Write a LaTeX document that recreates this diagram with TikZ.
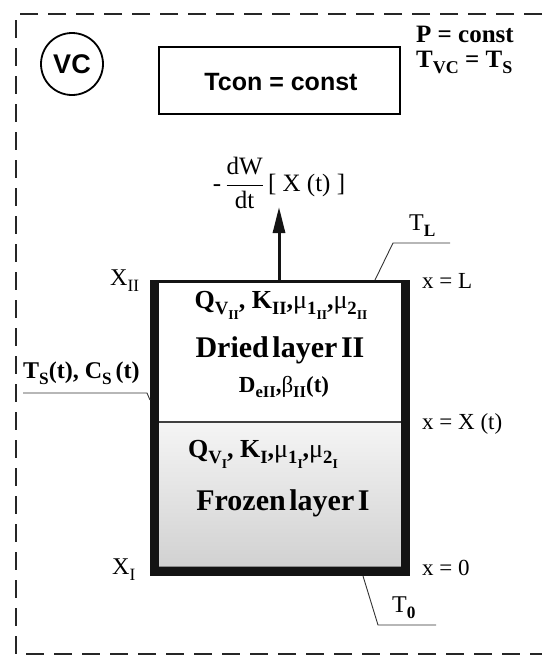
\documentclass[tikz,border=0pt]{standalone}
\usepackage{fontspec}
\setmainfont{Liberation Serif}
\setsansfont{Liberation Sans}
\usepackage{amsmath}
\usepackage{graphicx}
\usetikzlibrary{arrows.meta}
\newcommand{\sbs}[1]{\raisebox{-0.25em}{\scalebox{0.72}{#1}}}
\newcommand{\fsz}[1]{\fontsize{#1}{#1}\selectfont}
\begin{document}
\begin{tikzpicture}[x=1pt,y=-1pt,
  lbl/.style={inner sep=0pt, font=\fsz{23}},
  blbl/.style={inner sep=0pt, font=\fsz{25}\bfseries},
  layer/.style={inner sep=0pt, font=\fsz{30}\bfseries},
  leader/.style={draw=black!80, line width=0.9pt},
  wall/.style={fill=black!92},
  border/.style={draw=black!85, line width=1.6pt, dash pattern=on 18pt off 10pt},
]
\useasboundingbox (0,0) rectangle (542,657);
% dashed border
\draw[border] (542,14) -- (16,14) -- (16,654) -- (542,654);
% VC and Tcon
\draw[line width=1.8pt] (72,64) circle[radius=31];
\node[inner sep=0pt, font=\sffamily\bfseries\fsz{27}] (vc) at (72,64) {VC};
\draw[line width=1.2pt] (159,47) rectangle (400,114);
\node[inner sep=0pt, font=\sffamily\bfseries\fsz{25}] (tcon) at (281,82) {Tcon = const};
\node[inner sep=0pt, anchor=base west, align=left, font={\fontsize{25}{25}\selectfont\bfseries}] (pc) at (416,67) {P = const\\T\sbs{VC} = T\sbs{S}};
% container
\shade[top color=black!4, bottom color=black!18] (159,422) rectangle (401,567);
\draw[black!75, line width=1.5pt] (159,422) -- (401,422);
\draw[black!45, line width=0.8pt] (159,566) -- (401,566);
\fill[wall] (150,280) rectangle (159,576);
\fill[wall] (401,280) rectangle (410,576);
\fill[wall] (150,567) rectangle (410,576);
\draw[black!92, line width=2.5pt] (150,281.25) -- (410,281.25);
% flux arrow
\coordinate (abase) at (279,280);
\node[inner sep=0pt, font=\fsz{25}] (flux) at (279,183) {-\,$\displaystyle\frac{\text{dW}}{\text{dt}}$\,[ X (t) ]};
\coordinate (atip) at (279,207);
\draw[line width=3pt, black!92, -{Triangle[length=26pt, width=12pt]}] (abase) -- (atip);
% side labels
\node[lbl, anchor=base west, font=\fsz{24}] (xii) at (110,285) {X\sbs{II}};
\node[lbl, anchor=base west, font=\fsz{24}] (xi) at (112,574) {X\sbs{I}};
\node[lbl, anchor=base west] (xl) at (422,288) {x = L};
\node[lbl, anchor=base west] (xx) at (422,429) {x = X (t)};
\node[lbl, anchor=base west] (x0) at (422,575) {x = 0};
\node[lbl, anchor=base west, font=\fsz{24}] (tl) at (409,230) {T\sbs{\textbf{L}}};
\node[lbl, anchor=base west, font=\fsz{24}] (t0) at (392,612) {T\sbs{\textbf{0}}};
\node[blbl, anchor=base west, font=\fsz{24}\bfseries] (ts) at (23,378) {T\sbs{S}(t), C\sbs{S}\,(t)};
% leaders
\coordinate (tlw) at (375,280);
\coordinate (tlk) at (393,243);
\coordinate (tle) at (450,243);
\draw[leader] (tlw) -- (tlk) -- (tle);
\coordinate (t0w) at (363,576);
\coordinate (t0k) at (378,625);
\coordinate (t0e) at (436,625);
\draw[leader] (t0w) -- (t0k) -- (t0e);
\coordinate (tss) at (23,393);
\coordinate (tsk) at (147,393);
\coordinate (tsw) at (150,400);
\draw[leader] (tss) -- (tsk) -- (tsw);
% layer texts
\node[blbl, anchor=base, font=\fsz{26}\bfseries] (qii) at (281,308) {Q\sbs{V\sbs{II}}, K\sbs{II},{\mdseries μ}\sbs{1\sbs{II}},{\mdseries μ}\sbs{2\sbs{II}}};
\node[layer, anchor=base] (dried) at (280,357) {\spaceskip=0.12em\relax Dried layer II};
\node[blbl, anchor=base, font=\fsz{23}\bfseries] (deii) at (284,392) {D\sbs{eII},{\mdseries β}\sbs{II}(t)};
\node[blbl, anchor=base, font=\fsz{26}\bfseries] (qi) at (263,457) {Q\sbs{V\sbs{I}}, K\sbs{I},{\mdseries μ}\sbs{1\sbs{I}},{\mdseries μ}\sbs{2\sbs{I}}};
\node[layer, anchor=base] (frozen) at (283,510) {\spaceskip=0.12em\relax Frozen layer I};
\end{tikzpicture}
\end{document}
